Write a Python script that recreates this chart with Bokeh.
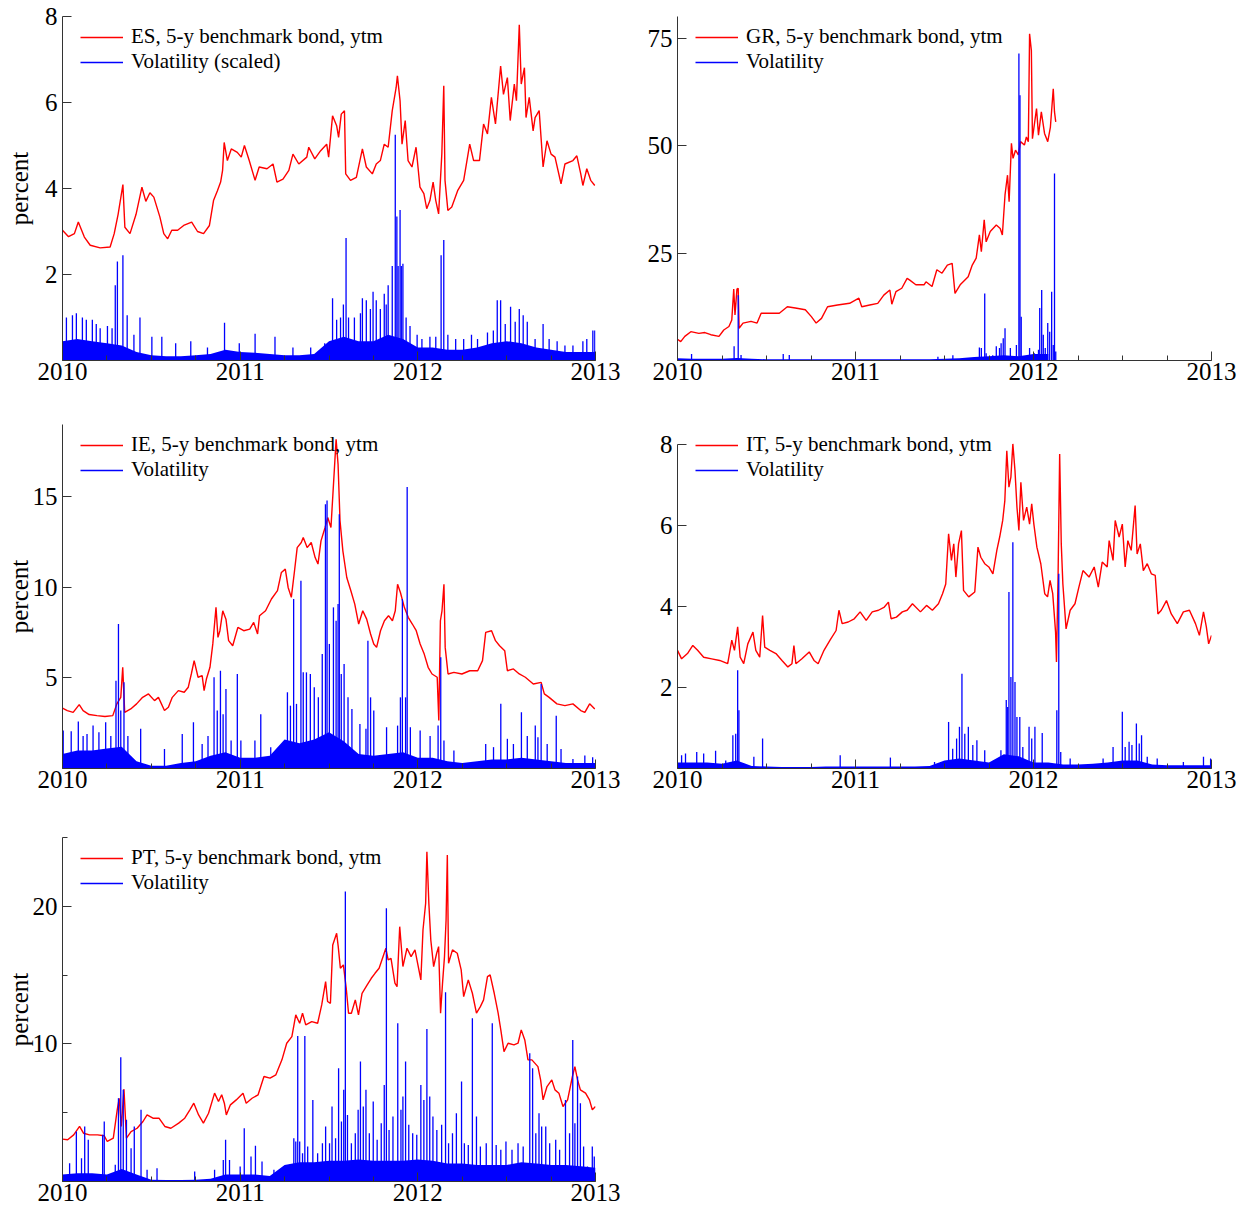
from bokeh.plotting import figure
from bokeh.models import FixedTicker, Legend, LegendItem, Range1d
from bokeh.layouts import column, row
from bokeh.embed import file_html
from bokeh.resources import INLINE

FONT = "Liberation Serif"
RED = "#ff0000"
BLUE = "#0000ff"
AXC = "#333333"

x_tick_values = [2010, 2011, 2012, 2013]
x_tick_labels = ["2010", "2011", "2012", "2013"]
month_grid = [2010 + m / 12 for m in range(37)]   # monthly dates Jan 2010 .. Jan 2013

# ---------------- ES ----------------
es_yield = [(2010.000,3.03),(2010.034,2.88),(2010.067,2.95),(2010.089,3.22),(2010.123,2.87),(2010.156,2.68),(2010.212,2.62),(2010.268,2.64),(2010.291,2.95),(2010.313,3.40),
 (2010.340,4.09),(2010.351,3.10),(2010.380,2.95),(2010.414,3.40),(2010.447,4.03),(2010.469,3.70),(2010.492,3.90),(2010.514,3.80),(2010.548,3.34),(2010.570,2.95),
 (2010.592,2.83),(2010.615,3.03),(2010.648,3.03),(2010.682,3.14),(2010.727,3.22),(2010.760,3.00),(2010.794,2.95),(2010.827,3.14),(2010.850,3.72),(2010.872,3.95),
 (2010.890,4.15),(2010.901,4.42),(2010.910,5.07),(2010.928,4.65),(2010.950,4.92),(2010.984,4.84),(2011.006,4.73),(2011.024,5.00),(2011.051,4.65),(2011.084,4.19),
 (2011.107,4.50),(2011.151,4.46),(2011.185,4.57),(2011.207,4.15),(2011.241,4.22),(2011.274,4.42),(2011.297,4.80),(2011.330,4.57),(2011.375,4.73),(2011.386,4.96),
 (2011.420,4.69),(2011.453,4.88),(2011.487,5.03),(2011.498,4.73),(2011.520,5.69),(2011.543,5.46),(2011.554,5.19),(2011.569,5.73),(2011.587,5.81),(2011.594,4.34),
 (2011.621,4.19),(2011.654,4.26),(2011.688,4.92),(2011.710,4.50),(2011.744,4.34),(2011.766,4.57),(2011.789,4.65),(2011.811,5.03),(2011.833,4.96),(2011.856,5.81),
 (2011.878,6.35),(2011.885,6.62),(2011.900,6.04),(2011.911,5.03),(2011.929,5.58),(2011.945,4.65),(2011.967,4.50),(2011.990,4.96),(2012.012,4.03),(2012.034,3.88),
 (2012.050,3.53),(2012.068,3.72),(2012.086,4.15),(2012.101,3.72),(2012.117,3.41),(2012.135,4.80),(2012.146,6.39),(2012.153,4.19),(2012.169,3.49),(2012.191,3.57),
 (2012.224,3.95),(2012.258,4.19),(2012.292,5.03),(2012.314,4.65),(2012.347,4.65),(2012.370,5.50),(2012.392,5.27),(2012.414,6.12),(2012.437,5.50),(2012.466,6.85),
 (2012.482,6.19),(2012.504,6.58),(2012.520,5.58),(2012.543,6.43),(2012.555,6.04),(2012.571,7.81),(2012.582,6.43),(2012.600,6.81),(2012.609,5.65),(2012.627,6.12),
 (2012.649,5.34),(2012.660,5.65),(2012.683,5.81),(2012.705,4.50),(2012.727,5.11),(2012.750,4.80),(2012.772,4.73),(2012.806,4.11),(2012.828,4.57),(2012.873,4.65),
 (2012.895,4.76),(2012.917,4.34),(2012.929,4.07),(2012.951,4.46),(2012.973,4.19),(2012.996,4.07)]
es_vol_spikes = [(2010.022,1.0),(2010.056,1.05),(2010.078,1.1),(2010.112,1.0),(2010.134,0.95),(2010.168,0.95),(2010.190,0.85),(2010.212,0.75),(2010.253,0.8),(2010.279,0.75),
 (2010.297,1.75),(2010.309,2.3),(2010.340,2.45),(2010.364,1.05),(2010.402,0.6),(2010.436,1.0),(2010.503,0.55),(2010.559,0.55),(2010.637,0.4),(2010.722,0.45),
 (2010.816,0.3),(2010.912,0.88),(2010.995,0.4),(2011.084,0.62),(2011.196,0.55),(2011.297,0.3),(2011.397,0.3),(2011.476,0.4),(2011.520,1.45),(2011.543,0.95),
 (2011.565,1.0),(2011.581,1.3),(2011.596,2.85),(2011.610,1.0),(2011.643,1.0),(2011.677,1.1),(2011.688,1.45),(2011.710,1.4),(2011.733,1.2),(2011.748,1.6),
 (2011.766,1.4),(2011.789,1.2),(2011.811,1.55),(2011.822,1.3),(2011.833,1.75),(2011.856,2.2),(2011.873,5.25),(2011.882,3.35),(2011.889,2.2),(2011.900,3.5),
 (2011.907,2.2),(2011.916,2.25),(2011.934,1.0),(2011.956,0.8),(2011.996,0.6),(2012.023,0.5),(2012.068,0.55),(2012.101,0.55),(2012.131,2.45),(2012.146,2.8),
 (2012.169,0.6),(2012.213,0.5),(2012.258,0.5),(2012.302,0.6),(2012.336,0.5),(2012.392,0.65),(2012.425,0.7),(2012.447,1.4),(2012.466,1.4),(2012.492,0.85),
 (2012.522,1.25),(2012.548,0.9),(2012.571,1.2),(2012.593,1.05),(2012.616,0.9),(2012.660,0.5),(2012.705,0.85),(2012.739,0.5),(2012.784,0.45),(2012.828,0.35),
 (2012.873,0.35),(2012.929,0.45),(2012.951,0.5),(2012.985,0.7),(2012.996,0.7)]
es_vol_base = [0.45,0.5,0.45,0.4,0.35,0.2,0.12,0.1,0.1,0.12,0.15,0.25,
               0.2,0.18,0.15,0.12,0.12,0.15,0.45,0.55,0.45,0.45,0.6,0.5,
               0.3,0.3,0.25,0.25,0.3,0.4,0.45,0.4,0.3,0.25,0.2,0.2,0.2]

# ---------------- GR ----------------
gr_yield = [(2010.000,4.95),(2010.018,4.4),(2010.041,5.6),(2010.075,6.7),(2010.120,6.3),(2010.154,6.5),(2010.187,6.0),(2010.233,5.6),(2010.260,7.1),(2010.289,7.9),
 (2010.305,9.4),(2010.316,16.6),(2010.323,10.6),(2010.334,16.6),(2010.341,16.8),(2010.346,7.5),(2010.368,8.7),(2010.413,9.1),(2010.447,8.7),(2010.470,11.0),
 (2010.515,11.0),(2010.572,11.0),(2010.617,12.5),(2010.662,12.2),(2010.718,11.8),(2010.752,10.2),(2010.779,8.7),(2010.809,9.8),(2010.843,12.5),(2010.899,12.9),
 (2010.967,13.3),(2011.019,14.5),(2011.035,12.5),(2011.080,12.9),(2011.125,13.3),(2011.159,15.2),(2011.193,16.4),(2011.204,13.1),(2011.227,16.0),(2011.260,16.8),
 (2011.290,19.1),(2011.305,18.7),(2011.339,17.6),(2011.385,17.6),(2011.396,18.3),(2011.430,17.2),(2011.457,21.1),(2011.486,20.3),(2011.516,22.2),(2011.543,22.6),
 (2011.559,15.6),(2011.588,17.6),(2011.633,19.5),(2011.656,22.2),(2011.678,23.8),(2011.696,29.2),(2011.707,25.3),(2011.723,32.7),(2011.734,27.6),(2011.757,30.0),
 (2011.791,31.5),(2011.813,30.7),(2011.825,29.2),(2011.840,38.5),(2011.854,43.1),(2011.863,36.9),(2011.876,50.5),(2011.885,47.0),(2011.899,48.9),(2011.915,47.8),
 (2011.927,50.9),(2011.949,50.1),(2011.960,52.0),(2011.971,50.9),(2011.978,76.0),(2011.988,72.1),(2011.994,51.6),(2012.017,58.6),(2012.028,52.4),(2012.044,57.8),
 (2012.062,52.8),(2012.080,50.9),(2012.095,54.3),(2012.111,63.2),(2012.118,57.8),(2012.125,55.5)]
gr_vol_spikes = [(2010.079,1.5),(2010.318,3.3),(2010.341,15.2),(2010.357,1.3),(2010.594,1.5),(2010.628,1.3),(2011.463,0.9),(2011.547,1.2),(2011.696,3.0),(2011.707,2.9),
 (2011.726,15.6),(2011.734,1.7),(2011.771,1.2),(2011.791,3.3),(2011.809,2.9),(2011.818,4.0),(2011.830,5.2),(2011.840,7.5),(2011.870,2.9),(2011.904,3.6),
 (2011.918,71.4),(2011.924,61.7),(2011.931,10.2),(2011.978,2.9),(2012.005,1.7),(2012.028,2.5),(2012.035,12.2),(2012.046,16.4),(2012.055,6.0),(2012.066,2.9),
 (2012.080,8.7),(2012.091,6.7),(2012.102,16.0),(2012.111,3.6),(2012.118,43.5),(2012.125,2.1)]
gr_vol_base = [0.5,0.4,0.4,0.4,0.6,0.4,0.3,0.3,0.3,0.3,0.3,0.3,
               0.3,0.3,0.3,0.3,0.3,0.3,0.4,0.5,0.8,1.0,1.2,1.0,
               1.5,1.5]

# ---------------- IE ----------------
ie_yield = [(2010.000,3.33),(2010.027,3.20),(2010.060,3.10),(2010.094,3.53),(2010.116,3.20),(2010.150,2.98),(2010.194,2.92),(2010.239,2.87),(2010.283,2.92),(2010.306,3.57),
 (2010.328,3.93),(2010.339,5.59),(2010.350,3.10),(2010.384,3.29),(2010.417,3.57),(2010.451,3.93),(2010.484,4.12),(2010.518,3.75),(2010.540,3.93),(2010.574,3.20),
 (2010.596,3.38),(2010.618,3.93),(2010.652,4.30),(2010.685,4.21),(2010.708,4.49),(2010.725,5.22),(2010.741,5.96),(2010.763,5.04),(2010.786,5.13),(2010.797,4.30),
 (2010.810,4.94),(2010.830,5.59),(2010.846,6.88),(2010.864,8.90),(2010.875,7.24),(2010.886,7.61),(2010.902,8.71),(2010.920,8.25),(2010.935,7.06),(2010.958,6.78),
 (2010.987,7.79),(2011.020,7.61),(2011.054,7.70),(2011.076,8.07),(2011.098,7.43),(2011.109,8.44),(2011.143,8.71),(2011.176,9.36),(2011.210,9.82),(2011.232,10.83),
 (2011.254,11.01),(2011.270,10.00),(2011.288,9.45),(2011.306,10.92),(2011.321,12.20),(2011.344,12.48),(2011.355,12.76),(2011.377,12.20),(2011.400,12.48),(2011.422,11.65),
 (2011.438,11.29),(2011.455,12.57),(2011.478,13.31),(2011.493,13.86),(2011.511,13.31),(2011.522,15.15),(2011.533,16.99),(2011.540,18.18),(2011.551,16.80),(2011.562,13.68),
 (2011.578,12.02),(2011.600,10.55),(2011.623,9.82),(2011.645,9.08),(2011.667,7.98),(2011.690,8.71),(2011.712,8.25),(2011.734,7.43),(2011.752,6.88),(2011.768,6.69),
 (2011.790,7.61),(2011.812,8.16),(2011.835,8.44),(2011.857,8.16),(2011.873,8.71),(2011.886,10.18),(2011.902,9.72),(2011.924,8.90),(2011.946,8.35),(2011.969,7.98),
 (2011.991,7.61),(2012.013,6.88),(2012.036,6.32),(2012.058,5.59),(2012.080,5.22),(2012.109,5.04),(2012.118,2.65),(2012.127,8.16),(2012.136,8.71),(2012.147,10.18),
 (2012.154,6.69),(2012.170,5.22),(2012.203,5.31),(2012.248,5.22),(2012.292,5.40),(2012.337,5.40),(2012.364,5.96),(2012.382,7.52),(2012.415,7.61),(2012.437,7.06),
 (2012.460,6.78),(2012.489,6.51),(2012.504,5.40),(2012.538,5.50),(2012.571,5.22),(2012.605,5.04),(2012.650,4.67),(2012.694,4.76),(2012.712,4.12),(2012.739,3.93),
 (2012.783,3.57),(2012.828,3.47),(2012.873,3.57),(2012.917,3.20),(2012.940,3.10),(2012.967,3.57),(2012.996,3.29)]
ie_vol_spikes = [(2010.004,2.1),(2010.049,2.06),(2010.089,2.6),(2010.116,1.8),(2010.138,1.9),(2010.172,2.37),(2010.205,2.0),(2010.243,2.55),(2010.272,1.8),(2010.301,4.85),
 (2010.315,7.98),(2010.328,3.2),(2010.346,4.76),(2010.368,1.8),(2010.440,2.19),(2010.574,1.08),(2010.674,1.9),(2010.737,2.55),(2010.786,1.36),(2010.819,1.8),
 (2010.853,5.04),(2010.871,3.2),(2010.889,5.4),(2010.904,3.0),(2010.920,4.39),(2010.949,1.54),(2010.984,5.22),(2011.004,1.54),(2011.083,1.54),(2011.116,3.0),
 (2011.172,1.18),(2011.266,4.21),(2011.283,3.47),(2011.301,9.36),(2011.317,3.57),(2011.342,10.37),(2011.355,5.31),(2011.373,5.31),(2011.395,5.22),(2011.417,4.49),
 (2011.440,3.93),(2011.462,6.32),(2011.480,14.6),(2011.489,14.8),(2011.502,6.88),(2011.525,8.9),(2011.540,8.16),(2011.551,9.08),(2011.558,14.04),(2011.569,5.22),
 (2011.585,5.77),(2011.607,3.93),(2011.629,3.29),(2011.674,2.46),(2011.708,2.19),(2011.719,7.06),(2011.734,3.93),(2011.752,3.2),(2011.824,2.28),(2011.886,2.37),
 (2011.902,3.93),(2011.913,9.36),(2011.931,3.93),(2011.940,15.55),(2011.958,2.28),(2012.013,2.1),(2012.069,1.8),(2012.114,2.37),(2012.129,6.14),(2012.147,1.54),
 (2012.203,1.0),(2012.382,1.36),(2012.426,1.18),(2012.467,3.57),(2012.504,1.64),(2012.538,1.36),(2012.583,3.1),(2012.616,1.8),(2012.661,2.37),(2012.676,1.73),
 (2012.694,4.67),(2012.728,1.36),(2012.779,2.92),(2012.806,1.08),(2012.873,0.53),(2012.940,0.72),(2012.984,0.62)]
ie_vol_base = [0.8,1.0,1.0,1.1,1.2,0.4,0.15,0.15,0.3,0.4,0.7,0.9,
               0.6,0.6,0.7,1.6,1.4,1.6,2.0,1.5,0.8,0.7,0.8,0.9,
               0.6,0.6,0.4,0.3,0.4,0.5,0.5,0.6,0.5,0.4,0.3,0.3,0.3]

# ---------------- IT ----------------
it_yield = [(2010.000,2.92),(2010.023,2.71),(2010.056,2.84),(2010.086,3.04),(2010.113,2.92),(2010.147,2.75),(2010.192,2.71),(2010.237,2.67),(2010.282,2.59),(2010.305,3.17),
 (2010.320,2.92),(2010.338,3.50),(2010.352,2.75),(2010.372,2.59),(2010.395,3.08),(2010.424,3.37),(2010.440,2.92),(2010.462,2.75),(2010.478,3.78),(2010.490,3.00),
 (2010.519,2.92),(2010.553,2.84),(2010.587,2.67),(2010.620,2.51),(2010.643,2.59),(2010.654,3.04),(2010.665,2.59),(2010.699,2.71),(2010.740,2.88),(2010.767,2.67),
 (2010.790,2.59),(2010.823,2.92),(2010.857,3.17),(2010.891,3.41),(2010.907,3.91),(2010.925,3.58),(2010.959,3.62),(2010.993,3.70),(2011.026,3.87),(2011.060,3.66),
 (2011.094,3.87),(2011.129,3.91),(2011.162,3.99),(2011.185,4.11),(2011.200,3.70),(2011.230,3.74),(2011.263,3.87),(2011.290,3.91),(2011.320,4.07),(2011.365,3.87),
 (2011.399,4.03),(2011.432,3.91),(2011.466,4.07),(2011.489,4.32),(2011.507,4.56),(2011.523,5.80),(2011.539,5.14),(2011.552,5.55),(2011.564,4.73),(2011.579,5.55),
 (2011.595,5.88),(2011.607,4.40),(2011.636,4.24),(2011.670,4.36),(2011.688,5.47),(2011.704,5.22),(2011.726,5.06),(2011.749,4.98),(2011.772,4.81),(2011.794,5.39),
 (2011.810,5.72),(2011.827,6.13),(2011.839,6.62),(2011.850,7.85),(2011.862,6.95),(2011.873,7.20),(2011.884,8.02),(2011.896,7.36),(2011.907,6.46),(2011.918,5.88),
 (2011.929,7.07),(2011.944,6.13),(2011.962,6.46),(2011.978,6.04),(2011.990,6.54),(2012.002,6.04),(2012.019,5.47),(2012.041,5.06),(2012.063,4.32),(2012.079,4.24),
 (2012.093,4.65),(2012.108,4.32),(2012.124,3.37),(2012.129,2.63),(2012.138,4.73),(2012.147,7.77),(2012.156,5.55),(2012.165,4.56),(2012.183,3.45),(2012.206,3.91),
 (2012.233,4.07),(2012.255,4.48),(2012.278,4.89),(2012.312,4.73),(2012.341,4.98),(2012.364,4.48),(2012.386,5.10),(2012.414,4.98),(2012.425,5.63),(2012.447,5.14),
 (2012.459,6.13),(2012.481,5.72),(2012.499,6.04),(2012.515,4.98),(2012.530,5.63),(2012.549,5.39),(2012.571,6.50),(2012.582,5.30),(2012.600,5.55),(2012.617,4.89),
 (2012.639,5.06),(2012.662,4.81),(2012.684,4.77),(2012.699,3.82),(2012.718,3.91),(2012.747,4.15),(2012.774,3.82),(2012.808,3.58),(2012.842,3.87),(2012.876,3.91),
 (2012.910,3.58),(2012.932,3.29),(2012.955,3.87),(2012.971,3.50),(2012.984,3.08),(2013.000,3.29)]
it_vol_spikes = [(2010.023,0.33),(2010.045,0.37),(2010.108,0.41),(2010.147,0.37),(2010.214,0.44),(2010.271,0.2),(2010.311,0.82),(2010.327,0.86),(2010.338,2.43),(2010.345,1.44),
 (2010.429,0.29),(2010.478,0.74),(2010.914,0.33),(2011.196,0.27),(2011.444,0.16),(2011.523,1.15),(2011.546,0.49),(2011.568,0.74),(2011.584,1.03),(2011.598,2.34),
 (2011.614,0.86),(2011.634,1.03),(2011.659,0.58),(2011.682,0.7),(2011.726,0.45),(2011.817,0.45),(2011.847,1.69),(2011.855,1.52),(2011.862,4.36),(2011.873,2.26),
 (2011.884,5.59),(2011.896,2.14),(2011.907,1.27),(2011.923,1.27),(2011.940,0.53),(2011.975,1.03),(2011.990,0.74),(2012.008,1.03),(2012.049,0.88),(2012.131,1.44),
 (2012.142,4.81),(2012.153,0.41),(2012.206,0.25),(2012.391,0.25),(2012.447,0.53),(2012.499,1.4),(2012.515,0.53),(2012.537,0.66),(2012.553,0.58),(2012.578,1.11),
 (2012.594,0.62),(2012.607,0.82),(2012.639,0.29),(2012.695,0.25),(2012.842,0.16),(2012.955,0.29),(2012.995,0.25)]
it_vol_base = [0.15,0.15,0.15,0.12,0.2,0.06,0.05,0.04,0.04,0.04,0.05,0.05,
               0.05,0.05,0.05,0.05,0.05,0.06,0.2,0.25,0.2,0.15,0.35,0.3,
               0.15,0.15,0.1,0.1,0.12,0.15,0.2,0.2,0.1,0.08,0.08,0.08,0.08]

# ---------------- PT ----------------
pt_yield = [(2010.000,3.08),(2010.029,3.03),(2010.063,3.39),(2010.096,4.00),(2010.118,3.51),(2010.152,3.39),(2010.197,3.39),(2010.235,3.32),(2010.252,2.91),(2010.286,3.15),
 (2010.308,5.21),(2010.319,6.05),(2010.331,4.00),(2010.346,6.71),(2010.360,3.15),(2010.386,3.63),(2010.420,3.87),(2010.453,4.36),(2010.476,4.84),(2010.509,4.60),
 (2010.543,4.60),(2010.576,4.00),(2010.610,3.87),(2010.654,4.24),(2010.688,4.60),(2010.717,5.21),(2010.739,5.69),(2010.766,4.84),(2010.793,4.24),(2010.822,4.96),
 (2010.856,6.42),(2010.878,5.81),(2010.896,6.30),(2010.911,5.69),(2010.922,4.84),(2010.945,5.57),(2010.978,5.93),(2011.016,6.42),(2011.034,5.69),(2011.067,6.05),
 (2011.101,6.30),(2011.134,7.63),(2011.168,7.51),(2011.201,7.75),(2011.235,8.84),(2011.262,10.05),(2011.291,10.53),(2011.313,12.11),(2011.335,11.50),(2011.351,12.23),
 (2011.369,11.38),(2011.403,11.62),(2011.436,11.50),(2011.459,12.83),(2011.481,14.53),(2011.492,13.08),(2011.508,12.95),(2011.521,17.19),(2011.543,18.04),(2011.552,17.07),
 (2011.564,15.50),(2011.581,15.74),(2011.597,14.04),(2011.610,12.23),(2011.626,12.23),(2011.648,13.20),(2011.666,12.11),(2011.686,13.68),(2011.715,14.29),(2011.738,14.77),
 (2011.759,15.13),(2011.782,15.50),(2011.804,16.34),(2011.820,16.95),(2011.833,16.10),(2011.849,16.22),(2011.871,14.41),(2011.883,14.16),(2011.898,18.52),(2011.916,15.62),
 (2011.939,16.95),(2011.962,16.34),(2011.984,16.83),(2012.006,15.38),(2012.017,14.65),(2012.029,18.28),(2012.044,20.22),(2012.051,23.97),(2012.062,20.22),(2012.073,17.55),
 (2012.089,15.62),(2012.106,16.59),(2012.117,17.07),(2012.128,12.23),(2012.139,14.41),(2012.150,16.34),(2012.159,19.01),(2012.166,23.73),(2012.173,15.86),(2012.195,16.83),
 (2012.222,16.59),(2012.244,15.38),(2012.258,13.44),(2012.284,14.65),(2012.307,13.68),(2012.330,12.23),(2012.352,12.71),(2012.370,13.20),(2012.392,14.89),(2012.407,15.01),
 (2012.430,13.68),(2012.452,12.23),(2012.467,11.02),(2012.485,9.44),(2012.508,10.05),(2012.541,9.93),(2012.564,10.05),(2012.582,11.02),(2012.602,10.29),(2012.620,8.84),
 (2012.642,8.84),(2012.676,8.35),(2012.691,7.38),(2012.705,5.93),(2012.727,6.90),(2012.754,7.38),(2012.772,6.66),(2012.794,6.42),(2012.817,5.45),(2012.843,5.93),
 (2012.870,7.63),(2012.884,8.35),(2012.899,7.38),(2012.915,6.66),(2012.944,6.42),(2012.966,5.93),(2012.982,5.21),(2013.000,5.45)]
pt_vol_spikes = [(2010.040,1.33),(2010.078,3.63),(2010.107,1.69),(2010.125,4.0),(2010.145,3.03),(2010.226,3.39),(2010.235,4.36),(2010.297,1.21),(2010.315,6.05),(2010.328,9.03),
 (2010.342,6.66),(2010.360,4.48),(2010.386,2.42),(2010.404,4.0),(2010.442,5.21),(2010.476,0.85),(2010.532,0.97),(2010.744,0.73),(2010.856,0.85),(2010.905,1.57),
 (2010.918,3.03),(2010.940,1.57),(2011.000,1.09),(2011.023,3.87),(2011.061,1.82),(2011.086,2.59),(2011.123,1.45),(2011.190,0.85),(2011.257,0.97),(2011.302,3.15),
 (2011.313,2.9),(2011.324,10.58),(2011.335,2.9),(2011.351,2.06),(2011.364,10.58),(2011.380,2.54),(2011.409,5.93),(2011.436,2.06),(2011.463,2.78),(2011.481,4.0),
 (2011.503,2.78),(2011.517,5.45),(2011.537,3.15),(2011.554,8.23),(2011.570,4.36),(2011.583,6.66),(2011.592,21.07),(2011.604,4.84),(2011.626,2.78),(2011.648,3.51),
 (2011.664,5.21),(2011.677,8.72),(2011.693,5.45),(2011.708,6.66),(2011.727,3.51),(2011.749,5.81),(2011.771,3.03),(2011.794,4.24),(2011.811,7.02),(2011.823,19.85),
 (2011.838,3.75),(2011.860,4.72),(2011.887,11.5),(2011.905,5.21),(2011.916,6.17),(2011.931,8.72),(2011.949,4.12),(2011.971,3.51),(2011.994,3.39),(2012.017,7.02),
 (2012.034,5.93),(2012.051,11.09),(2012.067,6.17),(2012.085,4.72),(2012.107,3.75),(2012.134,4.12),(2012.156,13.75),(2012.173,2.78),(2012.195,3.51),(2012.217,4.96),
 (2012.246,7.26),(2012.262,2.78),(2012.284,2.66),(2012.307,11.86),(2012.330,4.72),(2012.352,2.54),(2012.385,2.78),(2012.419,11.5),(2012.441,2.66),(2012.467,2.3),
 (2012.496,2.9),(2012.530,2.3),(2012.564,2.78),(2012.593,2.54),(2012.630,9.32),(2012.646,8.23),(2012.664,3.51),(2012.682,4.96),(2012.697,4.0),(2012.720,4.0),
 (2012.742,2.78),(2012.776,3.03),(2012.798,2.3),(2012.831,5.93),(2012.854,3.51),(2012.872,10.29),(2012.884,4.24),(2012.899,7.63),(2012.915,5.69),(2012.933,2.54),
 (2012.955,1.09),(2012.982,2.54),(2012.993,1.82)]
pt_vol_base = [0.5,0.6,0.6,0.5,0.9,0.5,0.12,0.1,0.1,0.12,0.2,0.5,
               0.5,0.5,0.4,1.2,1.4,1.4,1.5,1.5,1.6,1.5,1.5,1.5,
               1.6,1.5,1.3,1.3,1.2,1.2,1.2,1.4,1.3,1.2,1.2,1.1,1.0]


def one_item_legend(label, renderer, vy):
    lg = Legend(items=[LegendItem(label=label, renderers=[renderer])], location=(18, vy))
    lg.border_line_color = None
    lg.background_fill_alpha = 0
    lg.label_text_font = FONT
    lg.label_text_font_size = "21px"
    lg.label_text_color = "black"
    lg.glyph_width = 43
    lg.glyph_height = 20
    lg.label_height = 20
    lg.label_standoff = 8
    lg.padding = 0
    lg.margin = 0
    return lg


def make_panel(width, height, bl, br, bt, bb, yr, ybounds, yticks, yminor,
               yield_pts, spikes, base, base_t, labels, ylabel_standoff=None):
    p = figure(width=width, height=height, x_range=Range1d(2010, 2013), y_range=Range1d(*yr),
               output_backend="svg", toolbar_location=None,
               min_border_left=bl, min_border_right=br, min_border_top=bt, min_border_bottom=bb)
    p.outline_line_color = None
    p.xgrid.visible = False
    p.ygrid.visible = False

    yt, yv = zip(*yield_pts)
    red = p.line(list(yt), list(yv), line_color=RED, line_width=1.4)
    p.varea(x=base_t, y1=[0] * len(base), y2=base, fill_color=BLUE)
    st, sv = zip(*spikes)
    blue = p.segment(x0=list(st), y0=[0] * len(st), x1=list(st), y1=list(sv),
                     line_color=BLUE, line_width=1.3)

    xa = p.xaxis[0]
    xa.ticker = FixedTicker(ticks=x_tick_values,
                            minor_ticks=[2010 + q / 4 for q in range(13)])
    xa.major_label_overrides = {v: s for v, s in zip(x_tick_values, x_tick_labels)}
    xa.bounds = (2010, 2013)
    ya = p.yaxis[0]
    ya.ticker = FixedTicker(ticks=yticks, minor_ticks=yminor)
    ya.major_label_overrides = {v: str(v) for v in yticks}
    ya.bounds = ybounds
    for ax in (xa, ya):
        ax.axis_line_color = AXC
        ax.major_tick_line_color = AXC
        ax.minor_tick_line_color = AXC
        ax.major_tick_in = 9
        ax.major_tick_out = 0
        ax.minor_tick_in = 5
        ax.minor_tick_out = 0
        ax.major_label_text_font = FONT
        ax.major_label_text_font_size = "25px"
        ax.major_label_text_color = "black"
    xa.major_label_standoff = 2
    ya.major_label_standoff = 5
    if ylabel_standoff is not None:
        ya.axis_label = "percent"
        ya.axis_label_text_font = FONT
        ya.axis_label_text_font_size = "25px"
        ya.axis_label_text_font_style = "normal"
        ya.axis_label_text_color = "black"
        ya.axis_label_standoff = ylabel_standoff

    frame_h = height - bt - bb
    p.add_layout(one_item_legend(labels[0], red, frame_h - 33))
    p.add_layout(one_item_legend(labels[1], blue, frame_h - 58))
    return p


p_es = make_panel(628, 400, 62, 33, 16, 40, (0, 8), (0, 8), [2, 4, 6, 8], [],
                  es_yield, es_vol_spikes, es_vol_base, month_grid,
                  ["ES, 5-y benchmark bond, ytm", "Volatility (scaled)"], 9)
p_gr = make_panel(618, 400, 49, 35, 16, 40, (0, 80), (0, 80), [25, 50, 75], [],
                  gr_yield, gr_vol_spikes, gr_vol_base, month_grid[:len(gr_vol_base)],
                  ["GR, 5-y benchmark bond, ytm", "Volatility"])
p_ie = make_panel(628, 408, 62, 33, 24, 40, (0, 19), (0, 19), [5, 10, 15], [],
                  ie_yield, ie_vol_spikes, ie_vol_base, month_grid,
                  ["IE, 5-y benchmark bond, ytm", "Volatility"], -3)
p_it = make_panel(618, 408, 49, 35, 24, 40, (0, 8.5), (0, 8), [2, 4, 6, 8], [],
                  it_yield, it_vol_spikes, it_vol_base, month_grid,
                  ["IT, 5-y benchmark bond, ytm", "Volatility"])
p_pt = make_panel(628, 405, 62, 33, 29, 32, (0, 25), (0, 25), [10, 20], [5, 15, 25],
                  pt_yield, pt_vol_spikes, pt_vol_base, month_grid,
                  ["PT, 5-y benchmark bond, ytm", "Volatility"], -3)

layout = column(row(p_es, p_gr), row(p_ie, p_it), row(p_pt))
open("out.html", "w").write(file_html(layout, INLINE))
